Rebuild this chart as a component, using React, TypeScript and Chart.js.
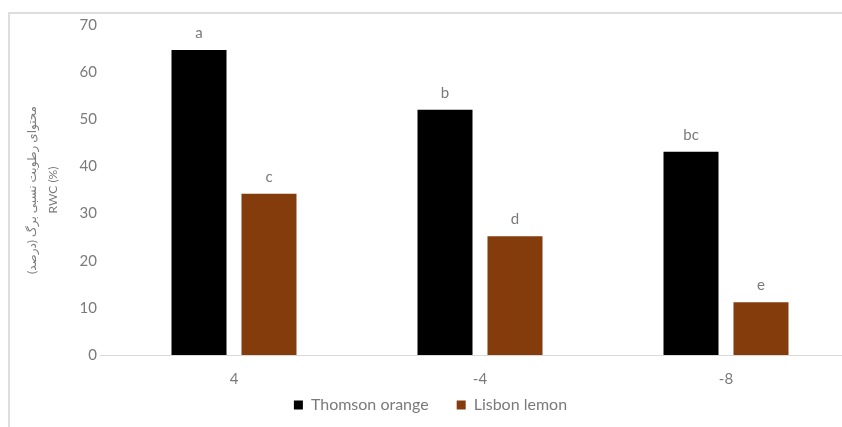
import React, { useEffect, useRef } from "react";
import { Chart, registerables } from "chart.js";

Chart.register(...registerables);

const categories = ["4", "-4", "-8"];
const thomsonOrange = [64.7, 52.0, 43.1];
const lisbonLemon = [34.2, 25.2, 11.2];
const thomsonLetters = ["a", "b", "bc"];
const lisbonLetters = ["c", "d", "e"];
const yTitleFa = "محتوای رطوبت نسبی برگ (درصد)";
const yTitleEn = "RWC (%)";

const FONT = 'Lato, "DejaVu Sans", sans-serif';
const GRAY = "#7a7a7a";

const letterPlugin = {
  id: "letters",
  afterDatasetsDraw(chart: any) {
    const ctx = chart.ctx;
    const sets = [thomsonLetters, lisbonLetters];
    ctx.save();
    ctx.fillStyle = GRAY;
    ctx.font = `15px ${FONT}`;
    ctx.textAlign = "center";
    ctx.textBaseline = "alphabetic";
    sets.forEach((letters, di) => {
      const meta = chart.getDatasetMeta(di);
      meta.data.forEach((bar: any, i: number) => {
        ctx.fillText(letters[i], bar.x, bar.y - 12);
      });
    });
    ctx.restore();
  },
};

const axisPlugin = {
  id: "axisLineAndLabels",
  beforeDatasetsDraw(chart: any) {
    const ctx = chart.ctx;
    const y = chart.scales.y.getPixelForValue(0);
    ctx.save();
    ctx.strokeStyle = "#d9d9d9";
    ctx.lineWidth = 1;
    ctx.beginPath();
    ctx.moveTo(100, Math.round(y) + 0.5);
    ctx.lineTo(chart.width, Math.round(y) + 0.5);
    ctx.stroke();
    const xs = chart.scales.x;
    ctx.fillStyle = GRAY;
    ctx.font = `15px ${FONT}`;
    ctx.textAlign = "center";
    ctx.textBaseline = "middle";
    categories.forEach((c, i) => {
      ctx.fillText(c, xs.getPixelForValue(i), y + 24);
    });
    ctx.restore();
  },
};

const yTitlePlugin = {
  id: "yTitle",
  afterDraw(chart: any) {
    const ctx = chart.ctx;
    const area = chart.chartArea;
    const cy = (area.top + area.bottom) / 2;
    ctx.save();
    ctx.fillStyle = GRAY;
    ctx.textAlign = "center";
    ctx.textBaseline = "middle";
    ctx.translate(32, cy);
    ctx.rotate(-Math.PI / 2);
    ctx.font = `12px ${FONT}`;
    (ctx as any).direction = "rtl";
    ctx.fillText(yTitleFa, 0, 0);
    (ctx as any).direction = "ltr";
    ctx.fillText(yTitleEn, 0, 21);
    ctx.restore();
  },
};

export default function App() {
  const ref = useRef<HTMLCanvasElement>(null);
  useEffect(() => {
    if (!ref.current) return;
    const chart = new Chart(ref.current, {
      type: "bar",
      data: {
        labels: categories,
        datasets: [
          {
            label: "Thomson orange",
            data: thomsonOrange,
            backgroundColor: "#000000",
            borderWidth: 0,
          },
          {
            label: "Lisbon lemon",
            data: lisbonLemon,
            backgroundColor: "#843C0C",
            borderWidth: 0,
          },
        ],
      },
      options: {
        responsive: false,
        animation: false,
        datasets: {
          bar: { categoryPercentage: 0.569, barPercentage: 0.786 },
        },
        layout: { padding: { left: 12, right: 31, top: 25, bottom: 4 } },
        plugins: {
          legend: {
            position: "bottom",
            labels: {
              font: { size: 16, family: FONT },
              color: GRAY,
              boxWidth: 9,
              boxHeight: 9,
              padding: 28,
            },
          },
          tooltip: { enabled: false },
        },
        scales: {
          x: {
            grid: { display: false, drawTicks: false },
            border: { display: false },
            ticks: { display: false },
            afterFit(s: any) {
              s.height = 14;
            },
          },
          y: {
            min: 0,
            max: 70,
            grid: { display: false, drawTicks: false },
            border: { display: false },
            ticks: {
              stepSize: 10,
              color: GRAY,
              font: { size: 15, family: FONT },
              padding: 14,
            },
            afterFit(s: any) {
              s.width = 99;
            },
          },
        },
      },
      plugins: [axisPlugin, letterPlugin, yTitlePlugin],
    });
    return () => chart.destroy();
  }, []);

  return (
    <div
      style={{
        position: "fixed",
        left: 0,
        top: 0,
        width: 842,
        height: 427,
        overflow: "hidden",
        background: "#ffffff",
      }}
    >
      <div
        style={{
          position: "absolute",
          left: 8,
          top: 12,
          width: 950,
          height: 500,
          borderLeft: "2px solid #dedede",
          borderTop: "2px solid #dedede",
        }}
      />
      <canvas
        ref={ref}
        width={880}
        height={427}
        style={{ position: "absolute", left: 0, top: 0, width: 880, height: 427 }}
      />
    </div>
  );
}
